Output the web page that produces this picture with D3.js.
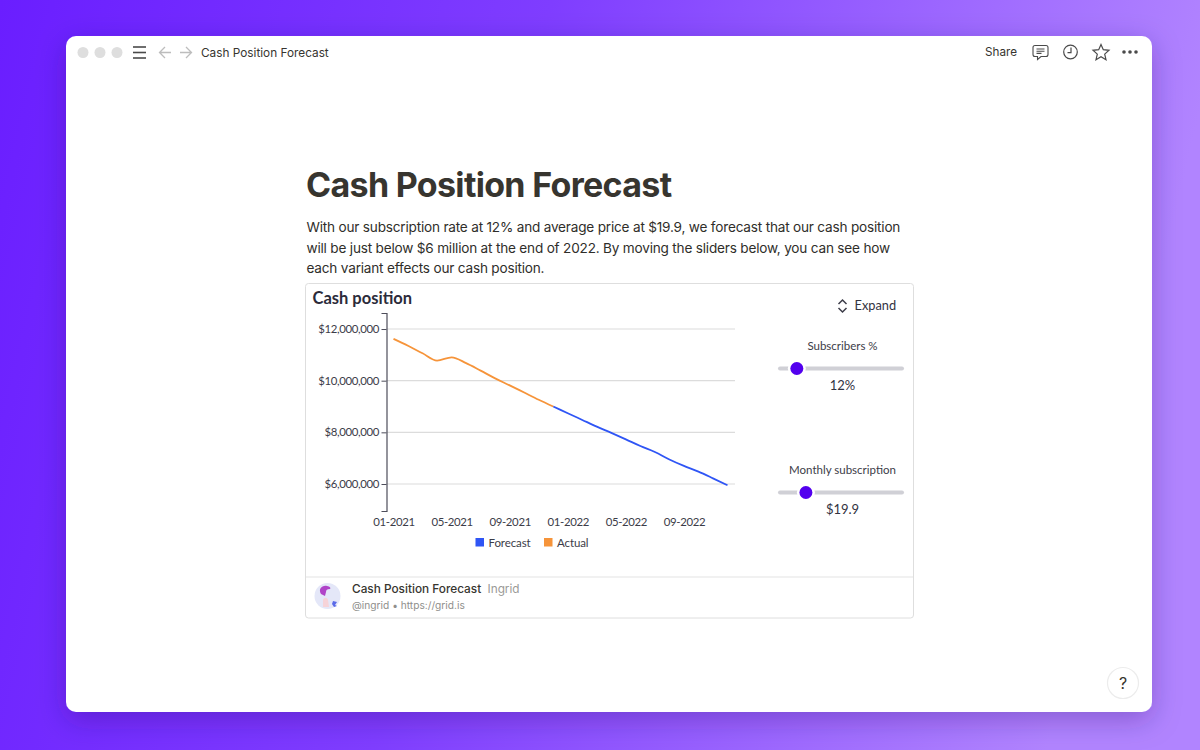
<!DOCTYPE html>
<html>
<head>
<meta charset="UTF-8">
<title>Cash Position Forecast</title>
<script src="https://cdn.jsdelivr.net/npm/d3@7"></script>
<style>
  html, body { margin: 0; padding: 0; background: #7a3cff; overflow: hidden; }
  svg { display: block; }
  .ui { font-family: Inter, "Noto Sans", sans-serif; }
  .chart text { font-family: Lato, "Noto Sans", sans-serif; }
</style>
</head>
<body>
<div id="root"></div>
<script>
// months on the x axis
const months = ["01-2021","02-2021","03-2021","04-2021","05-2021","06-2021","07-2021","08-2021","09-2021","10-2021","11-2021","12-2021",
  "01-2022","02-2022","03-2022","04-2022","05-2022","06-2022","07-2022","08-2022","09-2022","10-2022","11-2022","12-2022"]
const xTicks = ["01-2021","05-2021","09-2021","01-2022","05-2022","09-2022"]
const yTicks = [6000000, 8000000, 10000000, 12000000]

const actualMonths = months.slice(0, 12)
const actualValues = [11620000,11350000,11060000,10780000,10900000,10680000,10390000,10090000,9820000,9540000,9260000,9000000]
const forecastMonths = months.slice(11)
const forecastValues = [9000000,8740000,8480000,8220000,7980000,7730000,7470000,7240000,6950000,6700000,6480000,6220000,5950000]

const seriesNames = ["Forecast", "Actual"]
const seriesColors = ["#2f55f5", "#f6943a"]

const title = "Cash Position Forecast"
const bodyLines = [
  "With our subscription rate at 12% and average price at $19.9, we forecast that our cash position",
  "will be just below $6 million at the end of 2022. By moving the sliders below, you can see how",
  "each variant effects our cash position."
]

const width = 1200, height = 750

const svg = d3.select("#root").append("svg")
  .attr("width", width)
  .attr("height", height)

const defs = svg.append("defs")
const bg = defs.append("linearGradient").attr("id", "bg")
  .attr("x1", 0).attr("x2", 1).attr("y1", 0).attr("y2", 0.15)
bg.append("stop").attr("offset", "0%").attr("stop-color", "#6a1eff")
bg.append("stop").attr("offset", "45%").attr("stop-color", "#7f3dff")
bg.append("stop").attr("offset", "100%").attr("stop-color", "#b184ff")
const shadow = defs.append("filter").attr("id", "shadow")
  .attr("x", "-10%").attr("y", "-10%").attr("width", "120%").attr("height", "125%")
shadow.append("feDropShadow").attr("dx", 0).attr("dy", 8).attr("stdDeviation", 14)
  .attr("flood-color", "#2a0a70").attr("flood-opacity", 0.3)

svg.append("rect").attr("width", width).attr("height", height).attr("fill", "url(#bg)")

// app window
svg.append("rect")
  .attr("x", 66).attr("y", 36).attr("width", 1086).attr("height", 676).attr("rx", 10)
  .attr("fill", "#fff").attr("filter", "url(#shadow)")

// toolbar
const toolbar = svg.append("g").attr("class", "ui")
toolbar.selectAll("circle.light").data([83, 100, 117]).join("circle")
  .attr("class", "light").attr("cx", d => d).attr("cy", 52.5).attr("r", 5.5).attr("fill", "#dedede")
toolbar.selectAll("line.menu").data([47, 52.5, 58]).join("line")
  .attr("class", "menu").attr("x1", 133).attr("x2", 146).attr("y1", d => d).attr("y2", d => d)
  .attr("stroke", "#4a4a4a").attr("stroke-width", 1.6)
toolbar.append("path").attr("d", "M171 52.5H160M165 47l-5.5 5.5 5.5 5.5")
  .attr("fill", "none").attr("stroke", "#bdbdbd").attr("stroke-width", 1.3)
toolbar.append("path").attr("d", "M180 52.5H191M186 47l5.5 5.5-5.5 5.5")
  .attr("fill", "none").attr("stroke", "#bdbdbd").attr("stroke-width", 1.3)
toolbar.append("text").attr("x", 201).attr("y", 57).attr("font-size", 11.8).attr("fill", "#37352f").text(title)
toolbar.append("text").attr("x", 985).attr("y", 56).attr("font-size", 11.7).attr("fill", "#37352f").text("Share")
// comment
toolbar.append("path").attr("d", "M1035 45.5h11a2 2 0 0 1 2 2v7a2 2 0 0 1-2 2h-5l-3.5 3v-3H1035a2 2 0 0 1-2-2v-7a2 2 0 0 1 2-2zM1036.5 49h8M1036.5 51.2h8M1036.5 53.4h5")
  .attr("fill", "none").attr("stroke", "#4a4a4a").attr("stroke-width", 1.1)
// clock
toolbar.append("circle").attr("cx", 1070.5).attr("cy", 52).attr("r", 6.8)
  .attr("fill", "none").attr("stroke", "#4a4a4a").attr("stroke-width", 1.2)
toolbar.append("path").attr("d", "M1071 47.5V52.7H1067.5")
  .attr("fill", "none").attr("stroke", "#4a4a4a").attr("stroke-width", 1.2)
// star
toolbar.append("path").attr("d", "M1101 44.5l2.3 5.2 5.7.6-4.3 3.8 1.3 5.6-5-2.9-5 2.9 1.3-5.6-4.3-3.8 5.7-.6z")
  .attr("fill", "none").attr("stroke", "#4a4a4a").attr("stroke-width", 1.2)
toolbar.selectAll("circle.more").data([1124, 1130, 1136]).join("circle")
  .attr("class", "more").attr("cx", d => d).attr("cy", 52).attr("r", 1.8).attr("fill", "#4a4a4a")

// page text
const page = svg.append("g").attr("class", "ui")
page.append("text").attr("x", 306).attr("y", 197).attr("font-size", 34).attr("font-weight", 700)
  .attr("fill", "#37352f").attr("letter-spacing", -0.68).text(title)
page.selectAll("text.body").data(bodyLines).join("text")
  .attr("class", "body").attr("x", 306.5).attr("y", (d, i) => 232 + i * 20.7)
  .attr("font-size", 13.6).attr("letter-spacing", -0.2).attr("fill", "#2f2e2a").text(d => d)

// embed card
svg.append("rect").attr("x", 305.5).attr("y", 283.5).attr("width", 608).attr("height", 334.5).attr("rx", 3)
  .attr("fill", "#fff").attr("stroke", "#dedede")
svg.append("line").attr("x1", 306).attr("x2", 913).attr("y1", 577).attr("y2", 577).attr("stroke", "#e3e3e3")

// chart
const chart = svg.append("g").attr("class", "chart")
chart.append("text").attr("x", 312.5).attr("y", 304).attr("font-size", 16.5).attr("font-weight", 700)
  .attr("fill", "#2b2b3a").text("Cash position")

const x = d3.scalePoint().domain(months).range([393.5, 727.5])
const y = d3.scaleLinear().domain([4955000, 12620000]).range([511, 313])

// gridlines
chart.selectAll("line.grid").data(yTicks).join("line")
  .attr("class", "grid")
  .attr("x1", 386.5).attr("x2", 735)
  .attr("y1", d => y(d)).attr("y2", d => y(d))
  .attr("stroke", "#dcdcdc").attr("stroke-width", 1.2)

const yAxis = chart.append("g")
  .attr("transform", "translate(386.5,0)")
  .call(d3.axisLeft(y).tickValues(yTicks).tickSize(5).tickFormat(d => "$" + d3.format(",")(d)))
yAxis.select(".domain").attr("stroke", "#4d4d5a").attr("stroke-width", 1.2)
yAxis.selectAll(".tick line").attr("stroke", "#4d4d5a")
yAxis.selectAll(".tick text").attr("x", -7.5).attr("font-size", 11.4).attr("letter-spacing", -0.35)
  .attr("fill", "#3c3c48").attr("font-family", "Lato, sans-serif")

const xAxis = chart.append("g")
  .attr("transform", "translate(0,511)")
  .call(d3.axisBottom(x).tickValues(xTicks).tickSize(0).tickPadding(7))
xAxis.select(".domain").remove()
xAxis.selectAll(".tick text").attr("font-size", 11.4).attr("letter-spacing", -0.35)
  .attr("fill", "#3c3c48").attr("font-family", "Lato, sans-serif")

const line = d3.line()
  .x(d => x(d[0]))
  .y(d => y(d[1]))
  .curve(d3.curveMonotoneX)

chart.append("path")
  .datum(d3.zip(forecastMonths, forecastValues))
  .attr("fill", "none").attr("stroke", seriesColors[0]).attr("stroke-width", 1.8).attr("d", line)
chart.append("path")
  .datum(d3.zip(actualMonths, actualValues))
  .attr("fill", "none").attr("stroke", seriesColors[1]).attr("stroke-width", 1.8).attr("d", line)

// legend
const legend = chart.selectAll("g.legend").data(seriesNames).join("g")
  .attr("class", "legend")
  .attr("transform", (d, i) => "translate(" + [475.5, 544][i] + ",538)")
legend.append("rect").attr("width", 8.5).attr("height", 8.5).attr("fill", (d, i) => seriesColors[i])
legend.append("text").attr("x", 13).attr("y", 8.5).attr("font-size", 11.5).attr("letter-spacing", -0.1)
  .attr("fill", "#3c3c48").text(d => d)

// expand button
const expand = svg.append("g").attr("class", "chart")
expand.append("path").attr("d", "M838.5 304l4-4 4 4M838.5 308l4 4 4-4")
  .attr("fill", "none").attr("stroke", "#3c3c48").attr("stroke-width", 1.5)
expand.append("text").attr("x", 854.5).attr("y", 310).attr("font-size", 12.8).attr("fill", "#33333f").text("Expand")

// sliders
const sliderLabels = ["Subscribers %", "Monthly subscription"]
const sliderValues = [12, 19.9]
const sliderDomains = [[10, 30], [15, 42]]
const sliderTexts = ["12%", "$19.9"]
const sliderRows = [345, 469]

const sliders = svg.selectAll("g.slider").data(sliderLabels).join("g")
  .attr("class", "slider chart")
  .attr("transform", (d, i) => "translate(0," + sliderRows[i] + ")")
sliders.append("text").attr("x", 842.5).attr("y", 4.5).attr("text-anchor", "middle")
  .attr("font-size", 11.5).attr("fill", "#3c3c48").text(d => d)
sliders.append("line").attr("x1", 780).attr("x2", 902).attr("y1", 23.5).attr("y2", 23.5)
  .attr("stroke", "#d0d0d6").attr("stroke-width", 4).attr("stroke-linecap", "round")
sliders.each(function (d, i) {
  const pos = d3.scaleLinear().domain(sliderDomains[i]).range([785.7, 897])
  const g = d3.select(this)
  g.append("circle").attr("cx", pos(sliderValues[i])).attr("cy", 23.5).attr("r", 9).attr("fill", "#fff")
  g.append("circle").attr("cx", pos(sliderValues[i])).attr("cy", 23.5).attr("r", 6.5).attr("fill", "#5300ee")
})
sliders.append("text").attr("x", 842.5).attr("y", 44.5).attr("text-anchor", "middle")
  .attr("font-size", 13).attr("fill", "#33333f").text((d, i) => sliderTexts[i])

// footer of the card
const footer = svg.append("g").attr("class", "ui")
footer.append("circle").attr("cx", 327.5).attr("cy", 596).attr("r", 13).attr("fill", "#e4e7f8")
footer.append("path").attr("d", "M321 594c-3-5 1-9 6-8 3 .5 4 2 3 3-3 0-4 1-4 3l-1 4z").attr("fill", "#b044c8")
footer.append("path").attr("d", "M323 600c1-3 4-3 5 0l1 7h-6z").attr("fill", "#f6d3d8")
footer.append("path").attr("d", "M333 601l4 1-2 3 2 1-3 1-2-3z").attr("fill", "#5a6ae8")
footer.append("text").attr("x", 352).attr("y", 593).attr("font-size", 11.8).attr("font-weight", 500)
  .attr("fill", "#37352f").text(title)
footer.append("text").attr("x", 487.5).attr("y", 593).attr("font-size", 11.8).attr("fill", "#9a9a97").text("Ingrid")
footer.append("text").attr("x", 352).attr("y", 609).attr("font-size", 10.2).attr("fill", "#8f8f8c").text("@ingrid • https://grid.is")

// help button
const help = svg.append("g").attr("class", "ui")
help.append("circle").attr("cx", 1123).attr("cy", 683).attr("r", 15.5).attr("fill", "#fff").attr("stroke", "#ececec").attr("stroke-width", 1.2)
help.append("text").attr("x", 1123).attr("y", 689).attr("text-anchor", "middle").attr("font-size", 16)
  .attr("fill", "#37352f").text("?")
</script>
</body>
</html>
